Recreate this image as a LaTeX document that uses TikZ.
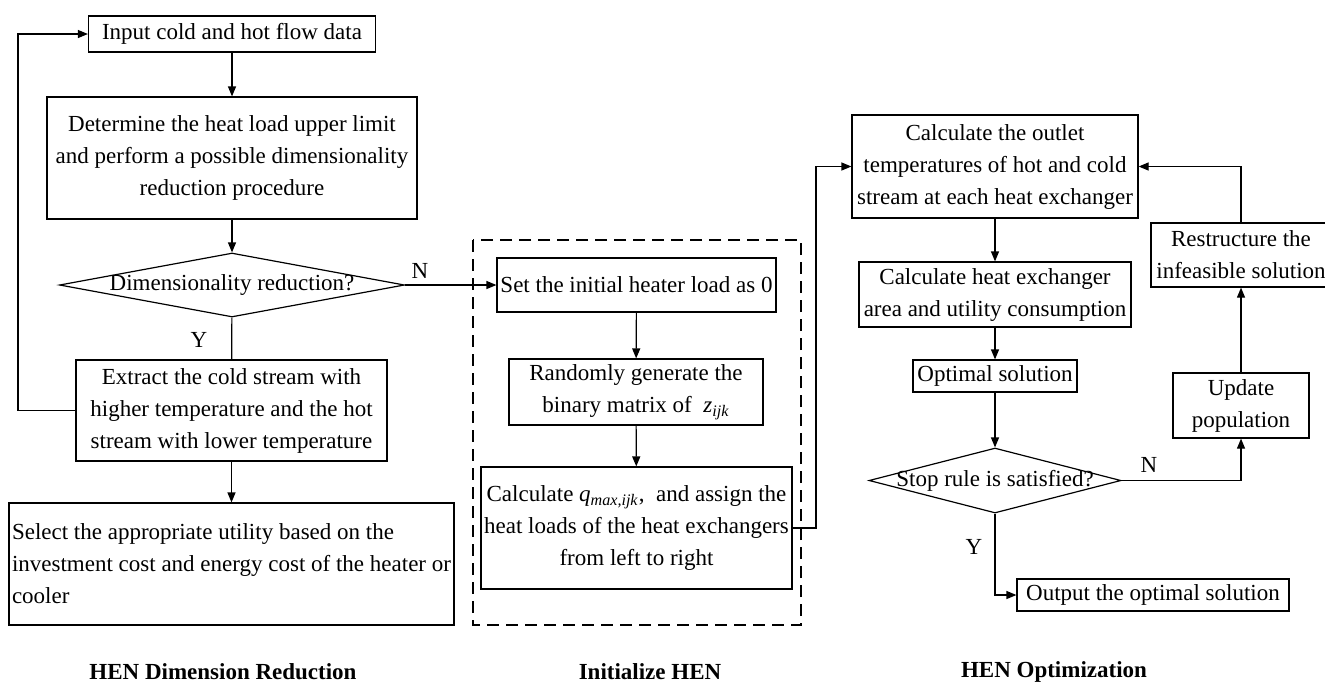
\documentclass[tikz,border=0pt]{standalone}
\usepackage{fontspec}
\setmainfont{Liberation Serif}
\usetikzlibrary{arrows.meta,shapes.geometric}

\tikzset{
  stepbox/.style={draw,line width=0.6pt,align=center,inner sep=1pt},
  decision/.style={draw,line width=0.6pt,diamond,inner sep=0pt},
  flow/.style={line width=0.6pt,-{Triangle[length=5pt,width=4pt]}},
  tag/.style={inner sep=1pt},
  title/.style={font=\fontsize{11.5}{16}\selectfont\bfseries}
}

\begin{document}
\begin{tikzpicture}[x=0.5pt,y=-0.5pt,font=\fontsize{11.5}{16}\selectfont]
 \useasboundingbox (0,0) rectangle (1325,682);
 % HEN dimension reduction
 \node[stepbox,minimum width=143.5pt,minimum height=18pt] (input) at (232,34) {Input cold and hot flow data};
 \node[stepbox,minimum width=185pt,minimum height=61pt] (limit) at (232,158)
   {Determine the heat load upper limit\\and perform a possible dimensionality\\reduction procedure};
 \node[decision,minimum width=172.5pt,minimum height=32pt,label=center:{Dimensionality reduction?}] (dimred) at (232,285) {};
 \node[stepbox,minimum width=155.5pt,minimum height=50.5pt] (extract) at (231.5,410.5)
   {Extract the cold stream with\\higher temperature and the hot\\stream with lower temperature};
 \node[stepbox,minimum width=222.5pt,minimum height=61pt,align=left] (utility) at (231.5,564)
   {Select the appropriate utility based on the\\investment cost and energy cost of the heater or\\cooler};
 \draw[flow] (input) -- (limit);
 \draw[flow] (limit) -- (dimred);
 \draw[line width=0.6pt] (dimred) -- (extract);
 \draw[flow] (extract) -- (utility);
 \draw[flow] (extract.west) -| (18,34) -- (input.west);
 \node[tag] (ylab1) at (199,340) {Y};
 \node[tag] (nlab1) at (420,271) {N};

 % initialize HEN
 \draw[dashed,line width=0.9pt,dash pattern=on 6pt off 3.5pt] (473,240) rectangle (801,625);
 \node[stepbox,minimum width=139.5pt,minimum height=27pt] (heater) at (636.5,285) {Set the initial heater load as 0};
 \node[stepbox,minimum width=127pt,minimum height=33pt] (binary) at (636,392)
   {Randomly generate the\\binary matrix of\ \ \textit{z}\textsubscript{\textit{ijk}}};
 \node[stepbox,minimum width=155.5pt,minimum height=61pt] (assign) at (636.5,528)
   {Calculate \textit{q}\textsubscript{\textit{max,ijk}},\ \ and assign the\\heat loads of the heat exchangers\\from left to right};
 \draw[flow] (dimred.east) -- (heater.west);
 \draw[flow] (heater) -- (binary);
 \draw[flow] (binary) -- (assign);

 % HEN optimization
 \node[stepbox,minimum width=143pt,minimum height=51.5pt] (outlet) at (995,166.5)
   {Calculate the outlet\\temperatures of hot and cold\\stream at each heat exchanger};
 \node[stepbox,minimum width=136pt,minimum height=32.5pt] (area) at (995,294.5)
   {Calculate heat exchanger\\area and utility consumption};
 \node[stepbox,minimum width=82pt,minimum height=16pt] (optimal) at (995,376) {Optimal solution};
 \node[decision,minimum width=126pt,minimum height=32.5pt,label=center:{Stop rule is satisfied?}] (stop) at (995,480.5) {};
 \node[stepbox,minimum width=68pt,minimum height=32.5pt] (update) at (1241,405.5) {Update\\population};
 \node[stepbox,minimum width=90pt,minimum height=32pt] (restruct) at (1241,255)
   {Restructure the\\infeasible solution};
 \node[stepbox,minimum width=136pt,minimum height=16pt] (output) at (1153,595) {Output the optimal solution};
 \draw[flow] (assign.east) -- (816,528) |- (outlet.west);
 \draw[flow] (outlet) -- (area);
 \draw[flow] (area) -- (optimal);
 \draw[flow] (optimal) -- (stop);
 \draw[flow] (stop.east) -| (update.south);
 \draw[flow] (update) -- (restruct);
 \draw[flow] (restruct.north) |- (outlet.east);
 \draw[flow] (stop.south) |- (output.west);
 \node[tag] (nlab2) at (1149,465) {N};
 \node[tag] (ylab2) at (974,547) {Y};

 % section titles
 \node[title] (t1) at (223,672) {HEN Dimension Reduction};
 \node[title] (t2) at (650,672) {Initialize HEN};
 \node[title] (t3) at (1054,672) {HEN Optimization};
\end{tikzpicture}
\end{document}
